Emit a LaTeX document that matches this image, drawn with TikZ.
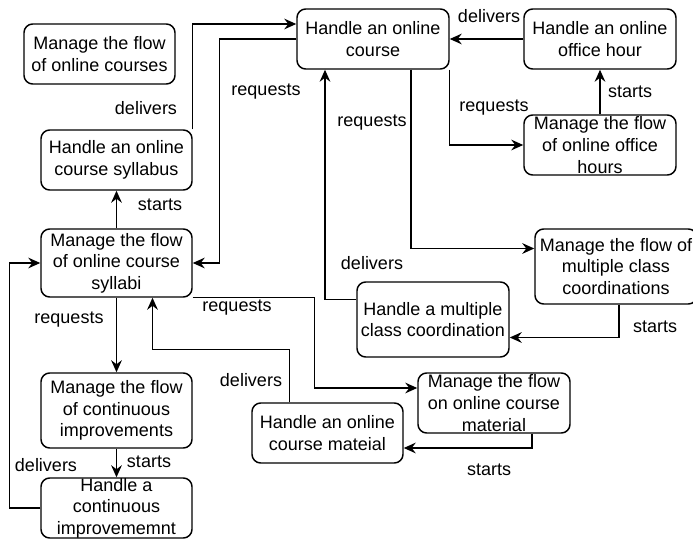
\documentclass[tikz,border=0pt]{standalone}
\usepackage{fontspec}
\setmainfont{Liberation Sans}
\usetikzlibrary{arrows.meta,calc}
\begin{document}
\begin{tikzpicture}[x=0.75pt,y=-0.75pt,
  font=\fontsize{13.5}{16.2}\selectfont,
  box/.style={draw=black,line width=1.1pt,rounded corners=6.5pt,align=center,inner sep=0pt},
  conn/.style={draw=black,line width=1.1pt,-{Stealth[length=9pt,width=8pt,inset=3pt]}},
  lbl/.style={inner sep=0pt}]
\useasboundingbox (0,0) rectangle (693,542);
% boxes
\node[box,minimum width=113.25pt,minimum height=45pt] (courses) at (99.5,54) {Manage the flow\\of online courses};
\node[box,minimum width=113.25pt,minimum height=45pt] (syllabus) at (116.5,160) {Handle an online\\course syllabus};
\node[box,minimum width=113.25pt,minimum height=51pt] (syllabi) at (116.5,263) {Manage the flow\\of online course\\syllabi};
\node[box,minimum width=114pt,minimum height=45pt] (course) at (373,39) {Handle an online\\course};
\node[box,minimum width=114pt,minimum height=45pt] (officehour) at (600,39) {Handle an online\\office hour};
\node[box,minimum width=114pt,minimum height=45pt] (officehours) at (600,145) {Manage the flow\\of online office\\hours};
\node[box,minimum width=121.5pt,minimum height=56.25pt] (multicoords) at (616,266.5) {Manage the flow of\\multiple class\\coordinations};
\node[box,minimum width=114pt,minimum height=56.25pt] (multicoord) at (433,319.5) {Handle a multiple\\class coordination};
\node[box,minimum width=114pt,minimum height=45pt] (material) at (494,403) {Manage the flow\\on online course\\material};
\node[box,minimum width=113.25pt,minimum height=45pt] (mateial) at (327.5,433) {Handle an online\\course mateial};
\node[box,minimum width=113.25pt,minimum height=56.25pt] (improvements) at (116.5,410.5) {Manage the flow\\of continuous\\improvements};
\node[box,minimum width=113.25pt,minimum height=45pt] (improvement) at (116.5,508) {Handle a\\continuous\\improvememnt};
% connectors
\draw[conn] (syllabus.north east) |- ($(course.west)+(0,-15)$);
\draw[conn] (course.west) -- ++(-77,0) |- (syllabi.east);
\draw[conn] (syllabi.north) -- (syllabus.south);
\draw[conn] ($(multicoord.west)+(0,-20)$) -| ($(course.south)+(-48,0)$);
\draw[conn] ($(course.south)+(38,0)$) |- ($(multicoords.west)+(0,-18)$);
\draw[conn] (course.south east) |- (officehours.west);
\draw[conn] (officehours.north) -- (officehour.south);
\draw[conn] (officehour.west) -- (course.east);
\draw[conn] ($(multicoords.south)+(3,0)$) |- ($(multicoord.east)+(0,18)$);
\draw[conn] (syllabi.south) -- (improvements.north);
\draw[conn] (syllabi.south east) -- ++(122,0) |- ($(material.west)+(0,-15)$);
\draw[conn] ($(mateial.north)+(-38,0)$) -- ++(0,-53) -| ($(syllabi.south)+(36,0)$);
\draw[conn] ($(material.south)+(38,0)$) |- ($(mateial.east)+(0,15)$);
\draw[conn] (improvements.south) -- (improvement.north);
\draw[conn] (improvement.west) -- ++(-31,0) |- (syllabi.west);
% labels
\node[lbl] (l1) at (146,108) {delivers};
\node[lbl] (l2) at (266,92) {requests};
\node[lbl] (l3) at (160,205) {starts};
\node[lbl] (l4) at (372,263) {delivers};
\node[lbl] (l5) at (372,123) {requests};
\node[lbl] (l6) at (494,108) {requests};
\node[lbl] (l7) at (630,92) {starts};
\node[lbl] (l8) at (489,16) {delivers};
\node[lbl] (l9) at (655,327) {starts};
\node[lbl] (l10) at (69,320) {requests};
\node[lbl] (l11) at (237,308) {requests};
\node[lbl] (l12) at (251,380) {delivers};
\node[lbl] (l13) at (489,470) {starts};
\node[lbl] (l14) at (149,462) {starts};
\node[lbl] (l15) at (46,465) {delivers};
\end{tikzpicture}
\end{document}
